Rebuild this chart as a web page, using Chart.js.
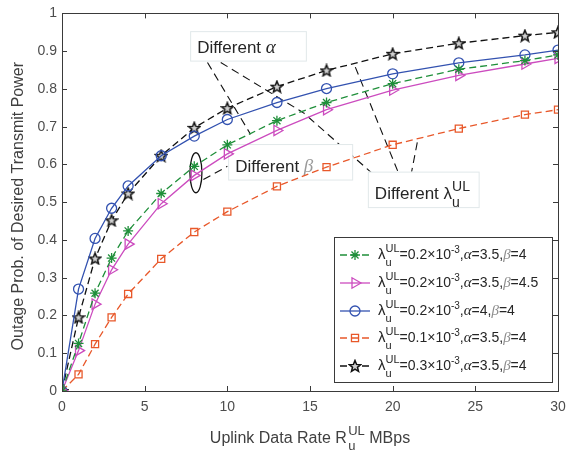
<!DOCTYPE html>
<html>
<head>
<meta charset="utf-8">
<script src="https://cdn.jsdelivr.net/npm/chart.js@4"></script>
<style>
  body { margin: 0; background: #fff; }
  canvas { display: block; }
</style>
</head>
<body>
<canvas id="chart" width="580" height="452"></canvas>
<script>
// data
const rates = [0, 1, 2, 3, 4, 6, 8, 10, 13, 16, 20, 24, 28, 30];
const greenVals = [0, 0.126, 0.259, 0.352, 0.424, 0.523, 0.595, 0.652, 0.716, 0.764, 0.814, 0.852, 0.875, 0.89];
const pinkVals = [0, 0.107, 0.23, 0.321, 0.389, 0.496, 0.571, 0.628, 0.69, 0.745, 0.797, 0.836, 0.866, 0.881];
const blueVals = [0, 0.27, 0.404, 0.484, 0.543, 0.623, 0.675, 0.719, 0.764, 0.801, 0.84, 0.869, 0.89, 0.903];
const orangeVals = [0, 0.044, 0.124, 0.195, 0.257, 0.35, 0.421, 0.475, 0.542, 0.593, 0.652, 0.695, 0.732, 0.745];
const blackVals = [0, 0.195, 0.351, 0.452, 0.523, 0.623, 0.697, 0.749, 0.806, 0.849, 0.893, 0.921, 0.941, 0.95];

const lambdaVals = ["0.2", "0.2", "0.2", "0.1", "0.3"];
const alphaVals = ["3.5", "3.5", "4", "3.5", "3.5"];
const betaVals = ["4", "4.5", "4", "4", "4"];

const SANS = "'Liberation Sans', Arial, sans-serif";
const SERIF = "'Liberation Serif', 'Times New Roman', serif";
const TXT = "#262626";

// pentagram marker for the black series
function makeStar() {
  const c = document.createElement("canvas");
  c.width = 14; c.height = 14;
  const g = c.getContext("2d");
  g.beginPath();
  for (let i = 0; i < 10; i++) {
    const r = i % 2 === 0 ? 6 : 2.6;
    const a = -Math.PI / 2 + i * Math.PI / 5;
    const px = 7 + r * Math.cos(a), py = 7.5 + r * Math.sin(a);
    i === 0 ? g.moveTo(px, py) : g.lineTo(px, py);
  }
  g.closePath();
  g.fillStyle = "#d0d0d0";
  g.fill();
  g.lineWidth = 1.5;
  g.strokeStyle = "#111";
  g.stroke();
  return c;
}
const starImg = makeStar();

const pts = (vals) => rates.map((x, i) => ({ x: x, y: vals[i] }));

const series = [
  { data: greenVals, color: "#1f8f3a", style: "star", dash: [7, 4], r: 5, rot: 0 },
  { data: pinkVals, color: "#cc4cbf", style: "triangle", dash: [], r: 6, rot: 90 },
  { data: blueVals, color: "#3352b0", style: "circle", dash: [], r: 5, rot: 0 },
  { data: orangeVals, color: "#e8582a", style: "rect", dash: [7, 4], r: 5, rot: 0 },
  { data: blackVals, color: "#111111", style: starImg, dash: [7, 4], r: 6, rot: 0 }
];

// rich text: parts = [{t, font, color, dy, stack}]
function drawRich(ctx, x, y, parts, measureOnly) {
  let cx = x;
  parts.forEach((p) => {
    ctx.font = p.font;
    let w = ctx.measureText(p.t).width;
    if (!measureOnly) {
      ctx.fillStyle = p.color || TXT;
      ctx.fillText(p.t, cx, y + (p.dy || 0));
    }
    if (p.stack) {
      ctx.font = p.stack.font;
      const w2 = ctx.measureText(p.stack.t).width;
      if (!measureOnly) {
        ctx.fillStyle = p.stack.color || TXT;
        ctx.fillText(p.stack.t, cx, y + p.stack.dy);
      }
      w = Math.max(w, w2);
    }
    cx += w;
  });
  return cx - x;
}

function lambdaParts(size, small) {
  return [
    { t: "\u03bb", font: size + "px " + SANS },
    { t: "UL", font: small + "px " + SANS, dy: -Math.round(size * 0.45),
      stack: { t: "u", font: small + "px " + SANS, dy: Math.round(size * 0.45) } }
  ];
}

const overlayPlugin = {
  id: "overlay",
  beforeDatasetsDraw(chart) {
    const { ctx, scales } = chart;
    const X = (v) => scales.x.getPixelForValue(v);
    const Y = (v) => scales.y.getPixelForValue(v);
    ctx.save();
    // annotation pointer lines (data coords)
    const lines = [
      [8.8, 0.87, 11.4, 0.68],
      [9.6, 0.87, 14.6, 0.737],
      [18.8, 0.575, 14.6, 0.737],
      [20.3, 0.583, 17.7, 0.862],
      [21.1, 0.570, 21.5, 0.661],
      [8.55, 0.56, 10.0, 0.595]
    ];
    ctx.strokeStyle = "#111";
    ctx.lineWidth = 1.1;
    ctx.setLineDash([8, 5]);
    lines.forEach((l) => {
      ctx.beginPath();
      ctx.moveTo(X(l[0]), Y(l[1]));
      ctx.lineTo(X(l[2]), Y(l[3]));
      ctx.stroke();
    });
    ctx.setLineDash([]);
    // ellipse around the beta pair
    ctx.beginPath();
    ctx.ellipse(X(8.1), Y(0.578), 6, 20, 0, 0, Math.PI * 2);
    ctx.lineWidth = 1.3;
    ctx.stroke();

    // text boxes
    const boxes = [
      { x0: 7.75, y0: 0.953, x1: 14.75, y1: 0.875, parts: [
        { t: "Different ", font: "17px " + SANS },
        { t: "\u03b1", font: "italic 19px " + SERIF }] },
      { x0: 10.05, y0: 0.654, x1: 17.55, y1: 0.56, parts: [
        { t: "Different ", font: "17px " + SANS },
        { t: "\u03b2", font: "italic 19px " + SERIF, color: "#9a9a9a" }] },
      { x0: 18.5, y0: 0.581, x1: 25.2, y1: 0.487, parts: [
        { t: "Different ", font: "17px " + SANS }].concat(lambdaParts(17, 14)) }
    ];
    boxes.forEach((b) => {
      const bx = X(b.x0), by = Y(b.y0), bw = X(b.x1) - bx, bh = Y(b.y1) - by;
      ctx.fillStyle = "#fff";
      ctx.fillRect(bx, by, bw, bh);
      ctx.strokeStyle = "#e1e8ea";
      ctx.lineWidth = 1;
      ctx.strokeRect(bx + 0.5, by + 0.5, bw, bh);
      ctx.textBaseline = "alphabetic";
      drawRich(ctx, bx + 7, by + bh - 8, b.parts);
    });
    ctx.restore();
  },
  afterDraw(chart) {
    const { ctx, chartArea: a, scales } = chart;
    ctx.save();
    // axes box + inward ticks
    ctx.strokeStyle = "#3a3a3a";
    ctx.lineWidth = 1;
    ctx.strokeRect(Math.round(a.left) + 0.5, Math.round(a.top) + 0.5,
      Math.round(a.right - a.left), Math.round(a.bottom - a.top));
    ctx.beginPath();
    scales.x.ticks.forEach((t) => {
      const px = Math.round(scales.x.getPixelForValue(t.value)) + 0.5;
      ctx.moveTo(px, a.bottom); ctx.lineTo(px, a.bottom - 5);
      ctx.moveTo(px, a.top); ctx.lineTo(px, a.top + 5);
    });
    scales.y.ticks.forEach((t) => {
      const py = Math.round(scales.y.getPixelForValue(t.value)) + 0.5;
      ctx.moveTo(a.left, py); ctx.lineTo(a.left + 5, py);
      ctx.moveTo(a.right, py); ctx.lineTo(a.right - 5, py);
    });
    ctx.stroke();

    // axis titles
    ctx.textBaseline = "alphabetic";
    const xt = [{ t: "Uplink Data Rate R", font: "16px " + SANS, color: "#404040" },
      { t: " ", font: "5px " + SANS },
      { t: "UL", font: "13px " + SANS, color: "#404040", dy: -8,
        stack: { t: "u", font: "13px " + SANS, color: "#404040", dy: 7 } },
      { t: " MBps", font: "16px " + SANS, color: "#404040" }];
    const w = drawRich(ctx, 0, 0, xt, true);
    drawRich(ctx, (a.left + a.right) / 2 - w / 2, 443, xt);

    ctx.save();
    ctx.translate(19, (a.top + a.bottom) / 2 + 4);
    ctx.rotate(-Math.PI / 2);
    ctx.font = "16px " + SANS;
    ctx.textAlign = "center";
    ctx.textBaseline = "middle";
    ctx.fillStyle = "#404040";
    ctx.fillText("Outage Prob. of Desired Transmit Power", 0, 0);
    ctx.restore();

    // legend
    const lx = 334, ly = 237, lw = 218, lh = 145;
    ctx.fillStyle = "#fff";
    ctx.fillRect(lx, ly, lw, lh);
    ctx.strokeStyle = "#3a3a3a";
    ctx.lineWidth = 1;
    ctx.strokeRect(lx + 0.5, ly + 0.5, lw, lh);
    const rowY = [255, 283, 311, 338, 366];
    chart.data.datasets.forEach((ds, i) => {
      const cy = rowY[i];
      ctx.strokeStyle = ds.borderColor;
      ctx.lineWidth = 1.3;
      ctx.setLineDash(ds.borderDash);
      ctx.beginPath();
      ctx.moveTo(340, cy); ctx.lineTo(370, cy);
      ctx.stroke();
      ctx.setLineDash([]);
      ctx.fillStyle = "rgba(0,0,0,0)";
      ctx.strokeStyle = ds.borderColor;
      Chart.helpers.drawPoint(ctx, {
        pointStyle: ds.pointStyle, rotation: ds.pointRotation, radius: ds.pointRadius,
        borderWidth: ds.pointBorderWidth
      }, 355, cy);
      const parts = lambdaParts(15, 11).concat([
        { t: "=" + lambdaVals[i] + "\u00d710", font: "14px " + SANS },
        { t: "-3", font: "10px " + SANS, dy: -6 },
        { t: ",", font: "14px " + SANS },
        { t: "\u03b1", font: "italic 15px " + SERIF },
        { t: "=" + alphaVals[i] + ",", font: "14px " + SANS },
        { t: "\u03b2", font: "italic 15px " + SERIF, color: "#8c8c8c" },
        { t: "=" + betaVals[i], font: "14px " + SANS }
      ]);
      ctx.textBaseline = "alphabetic";
      drawRich(ctx, 378, cy + 4, parts);
    });
    ctx.restore();
  }
};

new Chart(document.getElementById("chart"), {
  type: "line",
  data: {
    datasets: series.map((s) => ({
      data: pts(s.data),
      borderColor: s.color,
      backgroundColor: "rgba(0,0,0,0)",
      borderWidth: 1.3,
      borderDash: s.dash,
      tension: 0,
      pointStyle: s.style,
      pointRadius: s.r,
      pointRotation: s.rot,
      pointBorderColor: s.color,
      pointBackgroundColor: "rgba(0,0,0,0)",
      pointBorderWidth: 1.3
    }))
  },
  options: {
    responsive: false,
    animation: false,
    events: [],
    layout: { padding: { left: 0, top: 7, right: 22, bottom: 0 } },
    plugins: { legend: { display: false }, tooltip: { enabled: false } },
    scales: {
      x: {
        type: "linear", min: 0, max: 30,
        ticks: { stepSize: 5, color: "#4d4d4d", font: { family: SANS, size: 14 }, padding: 8 },
        grid: { display: false, drawTicks: false },
        border: { display: false },
        afterFit: (s) => { s.height = 61; }
      },
      y: {
        min: 0, max: 1,
        ticks: {
          stepSize: 0.1, color: "#4d4d4d", font: { family: SANS, size: 14 }, padding: 5,
          callback: (v) => String(Math.round(v * 10) / 10)
        },
        grid: { display: false, drawTicks: false },
        border: { display: false },
        afterFit: (s) => { s.width = 62; }
      }
    }
  },
  plugins: [overlayPlugin]
});
</script>
</body>
</html>
